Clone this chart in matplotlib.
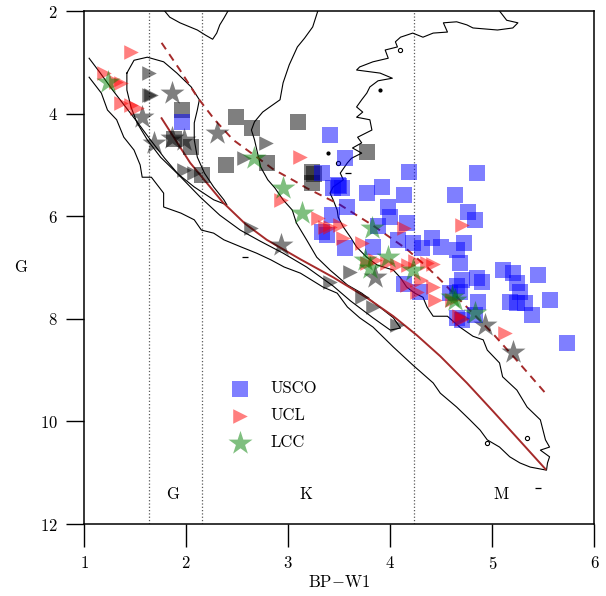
import numpy as np
import matplotlib
matplotlib.use("Agg")
import matplotlib.pyplot as plt

plt.rcParams['font.family'] = 'cmr10'
plt.rcParams['mathtext.fontset'] = 'cm'
plt.rcParams['axes.formatter.use_mathtext'] = True
plt.rcParams['font.size'] = 12

# --- field-star density contours (BP-W1, G) ---
inner_x = [3.29, 3.24, 3.16, 3.09, 3.01, 2.95, 2.92, 2.82, 2.75, 2.67, 2.64, 2.67, 2.70, 2.73,
           2.80, 2.87, 2.95, 3.04, 3.08, 3.18, 3.28, 3.41, 3.58, 3.72, 3.87, 4.03, 4.10,
           4.00, 3.83, 3.61, 3.44, 3.18, 2.95, 2.72, 2.53, 2.33, 2.14, 1.94, 1.79, 1.65,
           1.52, 1.40, 1.28, 1.16, 1.05]
inner_g = [2.00, 2.31, 2.53, 2.70, 3.05, 3.40, 3.73, 3.87, 3.97, 4.16, 4.32, 4.51, 4.77, 5.04,
           5.29, 5.45, 5.68, 5.88, 6.13, 6.46, 6.80, 7.05, 7.34, 7.50, 7.73, 7.98, 8.18,
           8.22, 7.98, 7.65, 7.36, 6.99, 6.72, 6.48, 6.27, 5.98, 5.63, 5.22, 4.87, 4.51,
           4.16, 3.85, 3.54, 3.21, 2.92]

outer_x = [5.07, 5.14, 5.25, 5.20, 5.05, 4.81, 4.75, 4.65, 4.52, 4.56, 4.42, 4.32, 4.22, 4.10,
           4.05, 4.07, 3.95, 3.98, 3.83, 3.70, 3.67, 3.90, 4.02, 3.88, 3.80, 3.77, 3.72, 3.67,
           3.73, 3.67, 3.80, 3.82, 3.68, 3.72, 3.63, 3.72, 3.62, 3.58, 3.51, 3.54, 3.44, 3.41,
           3.44, 3.48, 3.49, 3.54, 3.61, 3.67, 3.77, 3.87, 4.03, 4.10, 4.16, 4.24, 4.32, 4.36,
           4.42, 4.56, 4.68, 4.81, 4.91, 4.95, 5.07, 5.10, 5.24, 5.34, 5.47, 5.52, 5.56, 5.47,
           5.56, 5.54, 5.53, 5.37, 5.27, 5.17, 5.07, 4.95, 4.88, 4.78, 4.65, 4.49, 4.42, 4.22,
           4.03, 3.83, 3.70, 3.58, 3.48, 3.34, 3.12, 2.96, 2.83, 2.69, 2.54, 2.37, 2.27, 2.15,
           2.08, 1.95, 1.78, 1.78, 1.66, 1.57, 1.55, 1.49, 1.39, 1.32, 1.23, 1.17, 1.05]
outer_g = [2.00, 2.18, 2.23, 2.33, 2.37, 2.33, 2.27, 2.21, 2.23, 2.41, 2.43, 2.51, 2.43, 2.51,
           2.60, 2.70, 2.76, 2.92, 2.99, 3.09, 3.15, 3.21, 3.31, 3.36, 3.48, 3.60, 3.73, 3.87,
           3.97, 4.07, 4.12, 4.32, 4.46, 4.57, 4.67, 4.77, 4.87, 4.96, 5.16, 5.29, 5.43, 5.55,
           5.68, 5.88, 6.02, 6.21, 6.41, 6.60, 6.80, 6.95, 7.05, 7.20, 7.38, 7.50, 7.58, 7.77,
           7.95, 7.95, 8.16, 8.34, 8.41, 8.61, 8.86, 9.13, 9.39, 9.72, 9.97, 10.36, 10.50, 10.56,
           10.69, 10.81, 10.95, 10.89, 10.81, 10.69, 10.50, 10.36, 10.17, 9.97, 9.72, 9.45, 9.25, 8.90,
           8.55, 8.16, 7.98, 7.77, 7.50, 7.38, 7.11, 6.99, 6.85, 6.72, 6.60, 6.46, 6.33, 6.27,
           6.07, 5.94, 5.82, 5.55, 5.24, 5.24, 5.00, 4.71, 4.46, 4.12, 3.93, 3.60, 3.29]

top_x = [1.79, 1.84, 1.94, 2.11, 2.19, 2.26, 2.30, 2.33, 2.37, 2.41]
top_g = [2.00, 2.12, 2.23, 2.37, 2.47, 2.55, 2.43, 2.27, 2.14, 2.00]

core_x = [1.42, 1.49, 1.62, 1.78, 1.91, 2.05, 2.13, 2.11, 2.08, 2.08, 2.11, 2.18, 2.27, 2.37,
          2.40, 2.27, 2.08, 1.91, 1.75, 1.62, 1.52, 1.46, 1.42, 1.42]
core_g = [3.21, 2.96, 2.90, 2.99, 3.21, 3.48, 3.73, 3.93, 4.18, 4.51, 4.85, 5.16, 5.43, 5.68,
          5.78, 5.68, 5.43, 5.16, 4.85, 4.51, 4.18, 3.87, 3.54, 3.21]

dash_x = [2.58, 3.59, 5.45]
dash_g = [6.80, 5.16, 11.30]
loop_x = [4.10, 3.49, 4.95, 5.34]
loop_g = [2.76, 4.96, 10.42, 10.32]
dot_x = [3.90, 3.39]
dot_g = [3.54, 4.77]

# --- isochrones ---
iso1_x = [1.76, 2.04, 2.36, 2.58, 2.79, 3.12, 3.44, 3.77, 4.03, 4.26, 4.49, 4.75, 5.01, 5.27, 5.52]
iso1_g = [4.09, 4.96, 5.73, 6.15, 6.46, 6.84, 7.19, 7.59, 7.95, 8.32, 8.73, 9.25, 9.81, 10.38, 10.93]
iso2_x = [1.76, 1.94, 2.11, 2.28, 2.46, 2.66, 2.85, 3.05, 3.18, 3.51, 3.83, 4.16, 4.36, 4.52,
          4.68, 5.01, 5.27, 5.52]
iso2_g = [2.62, 3.15, 3.68, 4.12, 4.51, 4.80, 5.08, 5.30, 5.45, 5.78, 6.18, 6.64, 6.99, 7.30,
          7.63, 8.30, 8.88, 9.45]

spt_bounds = [1.64, 2.16, 4.23]
spt_labels = ['G', 'K', 'M']
spt_x = [1.87, 3.17, 5.09]

# --- members ---
usco_x = [1.96, 3.41, 3.56, 3.33, 3.49, 3.50, 3.53, 3.44, 3.58, 3.43, 3.33, 3.38, 3.56,
          3.77, 3.92, 4.13, 4.18, 3.98, 4.00, 4.16, 4.08, 4.22, 4.31, 4.41, 3.83, 4.50, 4.13, 4.29,
          4.85, 4.63, 4.76, 4.83, 4.65, 4.72, 4.68, 4.70, 4.85, 4.90, 5.10, 5.20, 5.24, 5.27, 5.45,
          5.17, 5.24, 5.32, 5.39, 5.56, 4.86, 4.65, 4.68, 4.58, 4.70, 4.65, 4.83, 5.73, 3.88]
usco_g = [4.16, 4.42, 4.87, 5.16, 5.39, 5.42, 5.45, 5.45, 5.82, 5.98, 6.31, 6.37, 6.62,
          5.55, 5.43, 5.59, 5.14, 5.82, 6.01, 6.13, 6.46, 6.52, 6.62, 6.43, 6.60, 6.60, 7.33, 7.48,
          5.16, 5.59, 5.92, 6.07, 6.66, 6.53, 6.91, 7.24, 7.20, 7.28, 7.05, 7.11, 7.30, 7.48, 7.15,
          7.67, 7.69, 7.69, 7.93, 7.63, 7.67, 7.37, 7.47, 7.50, 8.02, 7.99, 7.93, 8.48, 6.20]

ucl_x = [1.46, 1.20, 1.31, 1.36, 1.36, 1.46, 1.52, 3.12, 2.93, 3.29, 3.36, 3.41, 3.51, 3.54,
         3.72, 4.13, 4.70, 3.97, 4.07, 4.17, 4.24, 4.36, 4.42, 4.16, 4.30, 4.42, 4.26, 4.44,
         4.60, 4.67, 4.70, 5.12, 3.85, 3.77]
ucl_g = [2.79, 3.21, 3.38, 3.40, 3.80, 3.83, 3.90, 4.85, 5.68, 6.04, 6.21, 6.21, 6.17, 6.43,
         6.52, 6.23, 6.17, 6.91, 6.95, 6.95, 6.87, 6.91, 6.93, 7.34, 7.24, 7.38, 7.48, 7.63,
         7.63, 7.95, 8.00, 8.28, 6.85, 6.91]

lcc_x = [1.24, 2.67, 2.95, 3.14, 3.82, 3.75, 3.98, 4.22, 4.60, 4.63, 4.83, 3.80]
lcc_g = [3.38, 4.87, 5.45, 5.94, 6.23, 6.85, 6.80, 7.05, 7.58, 7.63, 7.89, 7.00]

oth_sq_x = [1.96, 2.49, 2.65, 3.10, 1.88, 2.05, 2.39, 2.79, 2.16, 3.23, 3.25, 3.23, 3.77]
oth_sq_g = [3.93, 4.06, 4.28, 4.16, 4.50, 4.65, 5.00, 4.96, 5.20, 5.14, 5.18, 5.35, 4.74]

oth_tri_x = [1.64, 1.64, 1.66, 2.78, 2.57, 1.98, 2.08, 2.64, 3.61, 3.41, 3.72, 3.83, 4.07, 4.70]
oth_tri_g = [3.21, 3.64, 3.64, 4.57, 4.87, 5.10, 5.16, 6.23, 7.09, 7.28, 7.58, 7.77, 8.12, 7.98]

oth_star_x = [1.86, 1.57, 1.69, 1.86, 1.98, 2.30, 2.93, 3.85, 4.93, 5.20]
oth_star_g = [3.60, 4.07, 4.57, 4.48, 4.51, 4.38, 6.56, 7.18, 8.12, 8.65]

fig = plt.figure(figsize=(6.06, 5.96), dpi=100)
ax = fig.add_axes([0.1386, 0.1208, 0.8424, 0.8607])

for xs, gs in [(inner_x, inner_g), (outer_x, outer_g), (top_x, top_g), (core_x, core_g)]:
    ax.plot(xs, gs, color='k', lw=0.8, zorder=2)
ax.plot(dash_x, dash_g, ls='none', marker='_', ms=4, mew=0.9, color='k')
ax.plot(loop_x, loop_g, ls='none', marker='o', ms=3, mew=0.8, mfc='none', mec='k')
ax.plot(dot_x, dot_g, ls='none', marker='o', ms=2, color='k')

for b in spt_bounds:
    ax.axvline(b, color='0.35', ls=':', lw=0.9, zorder=1)
for lab, xp in zip(spt_labels, spt_x):
    ax.text(xp, 11.42, lab, ha='center', va='center', fontsize=12)

ax.plot(iso1_x, iso1_g, color='#a52a2a', lw=1.4, zorder=3)
ax.plot(iso2_x, iso2_g, color='#a52a2a', lw=1.4, ls=(0, (4, 3)), zorder=3)

ax.scatter(oth_sq_x, oth_sq_g, marker='s', s=117, color='k', alpha=0.5, lw=0, zorder=4)
ax.scatter(oth_tri_x, oth_tri_g, marker='>', s=110, color='k', alpha=0.5, lw=0, zorder=4)
ax.scatter(oth_star_x, oth_star_g, marker='*', s=330, color='k', alpha=0.5, lw=0, zorder=4)
ax.scatter(usco_x, usco_g, marker='s', s=117, color='b', alpha=0.5, lw=0, zorder=5, label='USCO')
ax.scatter(ucl_x, ucl_g, marker='>', s=110, color='r', alpha=0.5, lw=0, zorder=5, label='UCL')
ax.scatter(lcc_x, lcc_g, marker='*', s=330, color='g', alpha=0.5, lw=0, zorder=5, label='LCC')

ax.set_xlim(1, 6)
ax.set_ylim(12, 2)
ax.set_xticks([1, 2, 3, 4, 5, 6])
ax.set_yticks([2, 4, 6, 8, 10, 12])
ax.tick_params(axis='x', direction='out', length=16.5, width=1.0, pad=6, labelsize=12)
ax.tick_params(axis='y', direction='out', length=13, width=1.0, pad=6, labelsize=12)
for sp in ax.spines.values():
    sp.set_linewidth(1.1)
ax.set_xlabel(r'BP$-$W1', fontsize=12, labelpad=1)
ax.set_ylabel('G', fontsize=12, rotation=0, labelpad=14, va='center')

ax.legend(loc='center', bbox_to_anchor=(0.365, 0.212), frameon=False, scatterpoints=1,
          handletextpad=0.85, labelspacing=0.7, fontsize=12)

fig.savefig('out.png', dpi=100)
